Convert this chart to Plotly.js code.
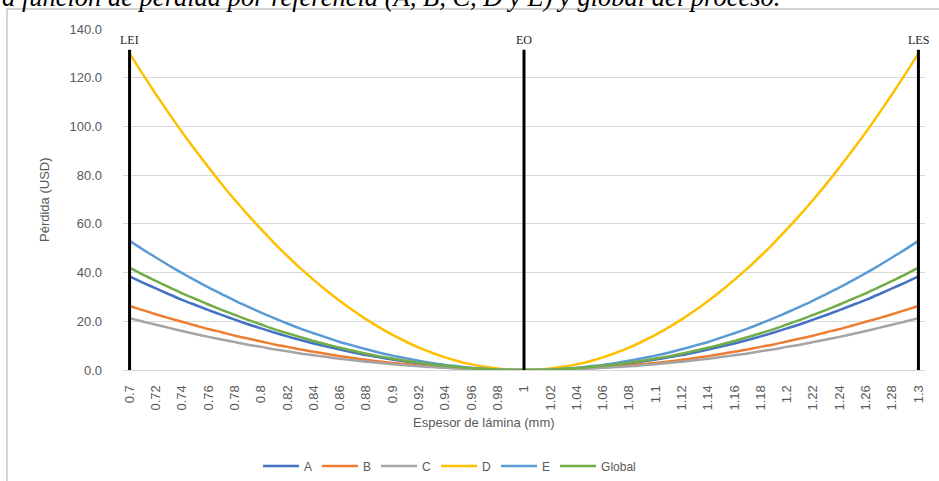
<!DOCTYPE html>
<html>
<head>
<meta charset="utf-8">
<script src="https://cdn.plot.ly/plotly-3.0.1.min.js"></script>
<style>html,body{margin:0;padding:0;background:#fff;}#chart{width:939px;height:481px;}</style>
</head>
<body>
<div id="chart"></div>
<script>
const categories = ["0.7","0.71","0.72","0.73","0.74","0.75","0.76","0.77","0.78","0.79","0.8","0.81","0.82","0.83","0.84","0.85","0.86","0.87","0.88","0.89","0.9","0.91","0.92","0.93","0.94","0.95","0.96","0.97","0.98","0.99","1","1.01","1.02","1.03","1.04","1.05","1.06","1.07","1.08","1.09","1.1","1.11","1.12","1.13","1.14","1.15","1.16","1.17","1.18","1.19","1.2","1.21","1.22","1.23","1.24","1.25","1.26","1.27","1.28","1.29","1.3"];

const seriesA = [38.4,35.9,33.5,31.1,28.8,26.7,24.6,22.6,20.7,18.8,17.1,15.4,13.8,12.3,10.9,9.6,8.4,7.2,6.1,5.2,4.3,3.5,2.7,2.1,1.5,1.1,0.7,0.4,0.2,0.0,0,0.0,0.2,0.4,0.7,1.1,1.5,2.1,2.7,3.5,4.3,5.2,6.1,7.2,8.4,9.6,10.9,12.3,13.8,15.4,17.1,18.8,20.7,22.6,24.6,26.7,28.8,31.1,33.5,35.9,38.4];
const seriesB = [26.3,24.6,22.9,21.3,19.8,18.3,16.8,15.5,14.1,12.9,11.7,10.5,9.5,8.4,7.5,6.6,5.7,4.9,4.2,3.5,2.9,2.4,1.9,1.4,1.1,0.7,0.5,0.3,0.1,0.0,0,0.0,0.1,0.3,0.5,0.7,1.1,1.4,1.9,2.4,2.9,3.5,4.2,4.9,5.7,6.6,7.5,8.4,9.5,10.5,11.7,12.9,14.1,15.5,16.8,18.3,19.8,21.3,22.9,24.6,26.3];
const seriesC = [21.3,19.9,18.6,17.3,16.0,14.8,13.6,12.5,11.5,10.4,9.5,8.5,7.7,6.8,6.1,5.3,4.6,4.0,3.4,2.9,2.4,1.9,1.5,1.2,0.9,0.6,0.4,0.2,0.1,0.0,0,0.0,0.1,0.2,0.4,0.6,0.9,1.2,1.5,1.9,2.4,2.9,3.4,4.0,4.6,5.3,6.1,6.8,7.7,8.5,9.5,10.4,11.5,12.5,13.6,14.8,16.0,17.3,18.6,19.9,21.3];
const seriesD = [130.0,121.5,113.2,105.3,97.6,90.3,83.2,76.4,69.9,63.7,57.8,52.1,46.8,41.7,37.0,32.5,28.3,24.4,20.8,17.5,14.4,11.7,9.2,7.1,5.2,3.6,2.3,1.3,0.6,0.1,0,0.1,0.6,1.3,2.3,3.6,5.2,7.1,9.2,11.7,14.4,17.5,20.8,24.4,28.3,32.5,37.0,41.7,46.8,52.1,57.8,63.7,69.9,76.4,83.2,90.3,97.6,105.3,113.2,121.5,130.0];
const seriesE = [53.0,49.5,46.2,42.9,39.8,36.8,33.9,31.2,28.5,26.0,23.6,21.3,19.1,17.0,15.1,13.3,11.5,10.0,8.5,7.1,5.9,4.8,3.8,2.9,2.1,1.5,0.9,0.5,0.2,0.1,0,0.1,0.2,0.5,0.9,1.5,2.1,2.9,3.8,4.8,5.9,7.1,8.5,10.0,11.5,13.3,15.1,17.0,19.1,21.3,23.6,26.0,28.5,31.2,33.9,36.8,39.8,42.9,46.2,49.5,53.0];
const seriesGlobal = [42.0,39.2,36.6,34.0,31.5,29.2,26.9,24.7,22.6,20.6,18.7,16.8,15.1,13.5,11.9,10.5,9.1,7.9,6.7,5.6,4.7,3.8,3.0,2.3,1.7,1.2,0.7,0.4,0.2,0.0,0,0.0,0.2,0.4,0.7,1.2,1.7,2.3,3.0,3.8,4.7,5.6,6.7,7.9,9.1,10.5,11.9,13.5,15.1,16.8,18.7,20.6,22.6,24.7,26.9,29.2,31.5,34.0,36.6,39.2,42.0];

const seriesNames = ["A","B","C","D","E","Global"];
const seriesColors = ["#4472C4","#ED7D31","#A5A5A5","#FFC000","#5B9BD5","#70AD47"];
const seriesData = [seriesA, seriesB, seriesC, seriesD, seriesE, seriesGlobal];

const limitCats = ["0.7","1","1.3"];
const limitLabels = ["LEI","EO","LES"];
const limitTop = 131.5;
const limitLabelY = 135.5;

const titleText = "a función de pérdida por referencia (A, B, C, D y E) y global del proceso.";
const xTitle = "Espesor de lámina (mm)";
const yTitle = "Pérdida (USD)";

const SANS = "Liberation Sans, Arial, sans-serif";
const SERIF = "Liberation Serif, Times New Roman, serif";
const GREY = "#595959";

const traces = seriesNames.map((n, i) => ({
  type: "scatter", mode: "lines", name: n,
  x: categories, y: seriesData[i],
  line: {color: seriesColors[i], width: 2.5, shape: "spline", smoothing: 0.6}
}));

const lx = [], ly = [];
limitCats.forEach(c => { lx.push(c, c, null); ly.push(0, limitTop, null); });
traces.push({type: "scatter", mode: "lines", x: lx, y: ly, showlegend: false,
  hoverinfo: "skip", line: {color: "#000000", width: 3}});

const L = 123, R = 925, T = 29, B = 370, W = 939, H = 481;
const px = v => (v - L) / (R - L);
const py = v => (B - v) / (B - T);

const annotations = limitCats.map((c, i) => ({
  x: categories.indexOf(c), y: limitLabelY, xref: "x", yref: "y", text: limitLabels[i], showarrow: false,
  xanchor: "center", yanchor: "middle",
  font: {family: SERIF, size: 12, color: "#222"}
}));
annotations.push({
  x: px(0), y: py(14), xref: "paper", yref: "paper", xanchor: "left", yanchor: "bottom",
  text: titleText, showarrow: false,
  font: {family: SERIF, size: 26.5, style: "italic", color: "#000"}
});
annotations.push({
  x: px(484), y: py(422), xref: "paper", yref: "paper", xanchor: "center", yanchor: "middle",
  text: xTitle, showarrow: false,
  font: {family: SANS, size: 13, color: GREY}
});
annotations.push({
  x: px(44), y: py(200), xref: "paper", yref: "paper", xanchor: "center", yanchor: "middle",
  text: yTitle, showarrow: false, textangle: -90,
  font: {family: SANS, size: 13, color: GREY}
});

const layout = {
  width: W, height: H,
  margin: {l: L, r: W - R, t: T, b: H - B, pad: 0, autoexpand: false},
  paper_bgcolor: "#ffffff", plot_bgcolor: "#ffffff",
  showlegend: true,
  legend: {orientation: "h", xref: "container", yref: "container",
    x: 258 / W, y: (H - 466) / H, xanchor: "left", yanchor: "middle",
    font: {family: SANS, size: 12, color: GREY},
    itemwidth: 36, tracegroupgap: 0, bgcolor: "rgba(0,0,0,0)"},
  xaxis: {type: "category", range: [-0.5, 60.5], tickmode: "linear", tick0: 0, dtick: 2,
    tickangle: -90, showgrid: false, zeroline: false, showline: true, linecolor: "#d9d9d9",
    linewidth: 1, ticks: "", ticklabelstandoff: 9, automargin: false,
    tickfont: {family: SANS, size: 13, color: GREY}},
  yaxis: {range: [0, 140], tickmode: "linear", tick0: 0, dtick: 20, tickformat: ".1f",
    showgrid: true, gridcolor: "#d9d9d9", gridwidth: 1, zeroline: false, showline: false,
    ticks: "", ticklabelstandoff: 20, automargin: false,
    tickfont: {family: SANS, size: 13, color: GREY}},
  shapes: [{type: "rect", xref: "paper", yref: "paper", x0: px(7), x1: px(945), y0: py(490), y1: py(9),
    line: {color: "#c8c8c8", width: 1.5}, fillcolor: "rgba(0,0,0,0)", layer: "below"}],
  annotations: annotations
};

Plotly.newPlot("chart", traces, layout, {displayModeBar: false, staticPlot: true});
</script>
</body>
</html>
